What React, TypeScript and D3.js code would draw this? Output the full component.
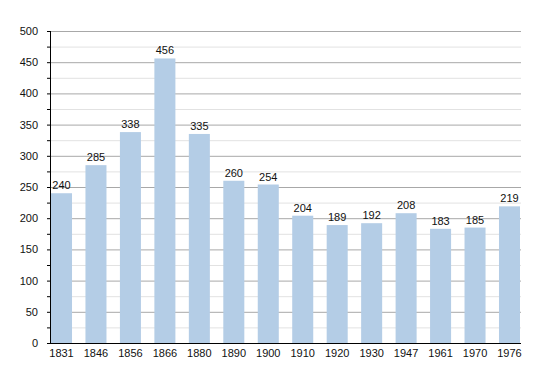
import React, { useEffect, useRef } from "react";
import * as d3 from "d3";

const years = ["1831", "1846", "1856", "1866", "1880", "1890", "1900", "1910", "1920", "1930", "1947", "1961", "1970", "1976"];
const population = [240, 285, 338, 456, 335, 260, 254, 204, 189, 192, 208, 183, 185, 219];
const yTicks = [0, 50, 100, 150, 200, 250, 300, 350, 400, 450, 500];

const App = () => {
  const ref = useRef<SVGSVGElement>(null);

  useEffect(() => {
    if (!ref.current) return;
    const svg = d3.select(ref.current);
    svg.selectAll("*").remove();

    const left = 50, right = 521, top = 31, bottom = 343;
    const y = d3.scaleLinear().domain([0, 500]).range([bottom, top]);
    const x = d3.scaleBand().domain(years).range([left + 1, right - 1]).paddingInner(0.39).paddingOuter(0);

    // minor gridlines every 25
    const minor = d3.range(25, 500, 50);
    svg.append("g").selectAll("line").data(minor).enter().append("line")
      .attr("x1", left).attr("x2", right)
      .attr("y1", (d) => y(d) + 0.5).attr("y2", (d) => y(d) + 0.5)
      .attr("stroke", "#e2e2e2");
    svg.append("g").selectAll("line").data(yTicks.slice(1)).enter().append("line")
      .attr("x1", left).attr("x2", right)
      .attr("y1", (d) => y(d) + 0.5).attr("y2", (d) => y(d) + 0.5)
      .attr("stroke", "#a8a8a8");

    // bars
    svg.append("g").selectAll("rect").data(population).enter().append("rect")
      .attr("x", (_, i) => x(years[i])!)
      .attr("width", x.bandwidth())
      .attr("y", (d) => y(d))
      .attr("height", (d) => bottom - y(d))
      .attr("fill", "#b4cde6");

    // value labels
    svg.append("g").selectAll("text").data(population).enter().append("text")
      .attr("x", (_, i) => x(years[i])! + x.bandwidth() / 2)
      .attr("y", (d) => y(d) - 4)
      .attr("text-anchor", "middle")
      .attr("font-family", "Liberation Sans, Arial, sans-serif")
      .attr("font-size", 11)
      .attr("fill", "#111")
      .text((d) => d);

    // y axis
    svg.append("line").attr("x1", left + 0.5).attr("x2", left + 0.5).attr("y1", top).attr("y2", bottom)
      .attr("stroke", "#000");
    svg.append("line").attr("x1", left).attr("x2", right).attr("y1", bottom + 0.5).attr("y2", bottom + 0.5)
      .attr("stroke", "#000");
    svg.append("g").selectAll("line").data(d3.range(0, 525, 25)).enter().append("line")
      .attr("x1", left - 3).attr("x2", left)
      .attr("y1", (d) => y(d) + 0.5).attr("y2", (d) => y(d) + 0.5)
      .attr("stroke", "#000");
    svg.append("g").selectAll("text").data(yTicks).enter().append("text")
      .attr("x", 38)
      .attr("y", (d) => y(d) + 4)
      .attr("text-anchor", "end")
      .attr("font-family", "Liberation Sans, Arial, sans-serif")
      .attr("font-size", 11)
      .attr("fill", "#111")
      .text((d) => d);

    // x labels
    svg.append("g").selectAll("text").data(years).enter().append("text")
      .attr("x", (d) => x(d)! + x.bandwidth() / 2)
      .attr("y", 357)
      .attr("text-anchor", "middle")
      .attr("font-family", "Liberation Sans, Arial, sans-serif")
      .attr("font-size", 11)
      .attr("fill", "#111")
      .text((d) => d);
  }, []);

  return (
    <svg ref={ref} width={550} height={373}
      style={{ position: "absolute", left: 0, top: 0, background: "#fff" }} />
  );
};

export default App;
